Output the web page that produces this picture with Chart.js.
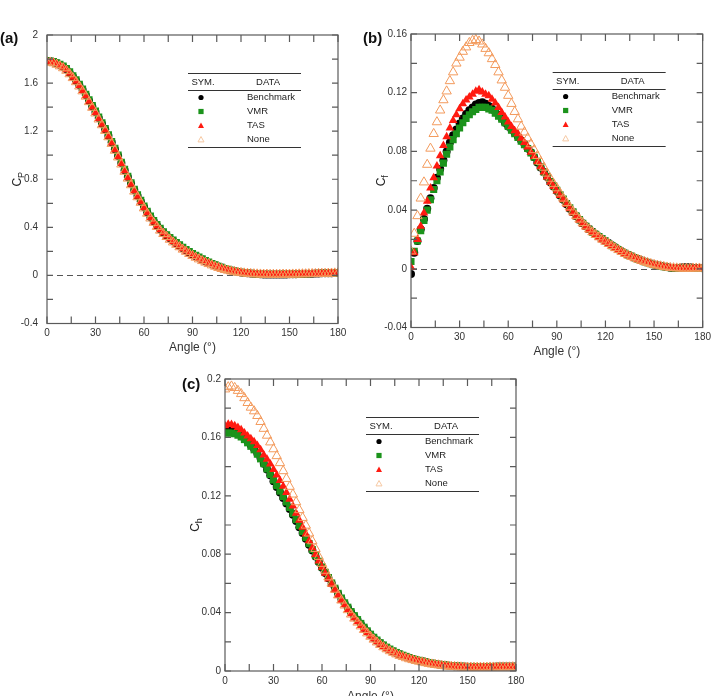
<!DOCTYPE html>
<html><head><meta charset="utf-8">
<script src="https://cdn.jsdelivr.net/npm/chart.js@4/dist/chart.umd.min.js"></script>
<style>
html,body{margin:0;padding:0;background:#fff;overflow:hidden;width:715px;height:696px;}
.p{position:absolute;}
</style></head><body>
<div class="p" style="left:0;top:0;width:352px;height:362px"><canvas id="ca"></canvas></div>
<div class="p" style="left:355px;top:0;width:360px;height:365px"><canvas id="cb"></canvas></div>
<div class="p" style="left:180px;top:340px;width:350px;height:365px"><canvas id="cc"></canvas></div>
<script>
// ---------------- DATA ----------------
const angles = [0,2,4,6,8,10,12,14,16,18, 20,22,24,26,28,30,32,34,36,38, 40,42,44,46,48,50,52,54,56,58, 60,62,64,66,68,70,72,74,76,78, 80,82,84,86,88,90,92,94,96,98, 100,102,104,106,108,110,112,114,116,118, 120,122,124,126,128,130,132,134,136,138, 140,142,144,146,148,150,152,154,156,158, 160,162,164,166,168,170,172,174,176,178, 180];
const seriesNames = ['Benchmark','VMR','TAS','None'];
const xTickValues = [0,30,60,90,120,150,180];
const yTicksA = [-0.4,0,0.4,0.8,1.2,1.6,2];
const yTicksB = [-0.04,0,0.04,0.08,0.12,0.16];
const yTicksC = [0,0.04,0.08,0.12,0.16,0.2];

// (a) pressure coefficient Cp
const cpBenchmark = [1.784,1.782,1.776,1.764,1.751,1.736,1.715,1.686,1.654,1.620, 1.584,1.544,1.500,1.454,1.407,1.360,1.310,1.262,1.215,1.162, 1.107,1.050,0.994,0.935,0.875,0.818,0.763,0.710,0.663,0.617, 0.570,0.526,0.486,0.450,0.416,0.385,0.357,0.332,0.309,0.287, 0.267,0.247,0.227,0.209,0.191,0.175,0.160,0.146,0.132,0.118, 0.106,0.095,0.084,0.074,0.065,0.056,0.048,0.041,0.035,0.030, 0.025,0.021,0.018,0.015,0.013,0.011,0.009,0.008,0.008,0.007, 0.007,0.007,0.007,0.008,0.008,0.009,0.010,0.010,0.011,0.012, 0.013,0.014,0.014,0.015,0.016,0.017,0.017,0.018,0.019,0.020, 0.021];
const cpVMR = [1.785,1.784,1.779,1.768,1.757,1.742,1.722,1.693,1.661,1.627, 1.591,1.551,1.507,1.461,1.414,1.367,1.317,1.269,1.222,1.169, 1.114,1.057,1.001,0.942,0.882,0.825,0.770,0.717,0.670,0.624, 0.577,0.533,0.493,0.457,0.423,0.392,0.364,0.339,0.316,0.294, 0.274,0.254,0.234,0.216,0.198,0.182,0.167,0.152,0.138,0.124, 0.111,0.099,0.088,0.077,0.067,0.058,0.050,0.043,0.037,0.031, 0.027,0.023,0.019,0.017,0.015,0.013,0.012,0.011,0.010,0.010, 0.010,0.010,0.010,0.011,0.011,0.011,0.012,0.012,0.013,0.014, 0.014,0.015,0.016,0.016,0.017,0.018,0.018,0.019,0.020,0.021, 0.022];
const cpTAS = [1.780,1.778,1.772,1.760,1.747,1.731,1.710,1.681,1.649,1.615, 1.579,1.539,1.495,1.449,1.402,1.355,1.305,1.257,1.210,1.157, 1.102,1.045,0.989,0.930,0.870,0.813,0.758,0.705,0.658,0.612, 0.565,0.521,0.481,0.445,0.411,0.380,0.352,0.327,0.304,0.282, 0.262,0.242,0.222,0.204,0.186,0.170,0.155,0.141,0.127,0.113, 0.101,0.090,0.079,0.069,0.060,0.052,0.045,0.038,0.033,0.028, 0.024,0.020,0.017,0.015,0.013,0.011,0.010,0.009,0.009,0.008, 0.008,0.008,0.008,0.009,0.009,0.009,0.010,0.010,0.011,0.012, 0.012,0.013,0.014,0.014,0.015,0.016,0.016,0.017,0.018,0.019, 0.020];
const cpNone = [1.774,1.772,1.766,1.754,1.741,1.725,1.704,1.675,1.643,1.609, 1.573,1.533,1.489,1.443,1.396,1.349,1.299,1.251,1.204,1.151, 1.096,1.039,0.983,0.924,0.864,0.807,0.752,0.699,0.652,0.606, 0.559,0.515,0.475,0.439,0.405,0.374,0.346,0.321,0.298,0.276, 0.256,0.236,0.216,0.198,0.180,0.164,0.149,0.135,0.121,0.108, 0.096,0.085,0.074,0.064,0.055,0.047,0.041,0.034,0.029,0.025, 0.021,0.018,0.015,0.013,0.011,0.010,0.009,0.008,0.008,0.007, 0.007,0.007,0.007,0.008,0.008,0.008,0.009,0.009,0.010,0.011, 0.011,0.012,0.013,0.013,0.014,0.015,0.015,0.016,0.017,0.018, 0.019];

// (b) skin friction coefficient Cf
const cfBenchmark = [-0.0035,0.011,0.019,0.027,0.034,0.041,0.048,0.055,0.062,0.068, 0.074,0.080,0.086,0.091,0.095,0.099,0.1025,0.1055,0.108,0.110, 0.112,0.113,0.1135,0.1125,0.111,0.109,0.107,0.105,0.1025,0.0995, 0.097,0.095,0.0925,0.090,0.0875,0.085,0.082,0.0795,0.076,0.0725, 0.069,0.066,0.0625,0.059,0.056,0.053,0.050,0.047,0.044,0.041, 0.0385,0.036,0.0335,0.031,0.029,0.0272,0.0253,0.0236,0.022,0.0205, 0.019,0.0175,0.016,0.0146,0.0132,0.0119,0.0106,0.0095,0.0085,0.0075, 0.0066,0.0058,0.005,0.0043,0.0036,0.003,0.0025,0.002,0.0015,0.0012, 0.0008,0.0006,0.0005,0.0007,0.001,0.0011,0.001,0.0008,0.0006,0.0005, 0.0004];
const cfVMR = [0.005,0.012,0.019,0.026,0.033,0.040,0.047,0.054,0.060,0.066, 0.072,0.078,0.083,0.088,0.092,0.096,0.0995,0.1025,0.105,0.107, 0.1085,0.110,0.110,0.110,0.109,0.108,0.106,0.104,0.102,0.0995, 0.097,0.0945,0.092,0.0895,0.087,0.0845,0.082,0.079,0.076,0.073, 0.0695,0.066,0.063,0.0595,0.0565,0.0535,0.0505,0.0475,0.0445,0.0415, 0.0388,0.036,0.0335,0.031,0.029,0.027,0.025,0.0235,0.022,0.0205, 0.019,0.0173,0.0158,0.0145,0.0132,0.0118,0.0105,0.0095,0.0085,0.0075, 0.0065,0.0056,0.0048,0.0041,0.0034,0.0028,0.0023,0.0018,0.0014,0.0011, 0.0008,0.0006,0.0005,0.0004,0.0003,0.0003,0.0003,0.0003,0.0002,0.0002, 0.0002];
const cfTAS = [0.001,0.011,0.020,0.029,0.038,0.046,0.055,0.062,0.070,0.077, 0.084,0.090,0.096,0.101,0.105,0.109,0.1125,0.115,0.117,0.119, 0.121,0.122,0.1205,0.119,0.118,0.1155,0.113,0.110,0.1065,0.1035, 0.100,0.097,0.094,0.092,0.089,0.086,0.083,0.0795,0.0765,0.073, 0.0695,0.066,0.0625,0.059,0.056,0.053,0.050,0.047,0.044,0.041, 0.038,0.0355,0.033,0.0305,0.0285,0.0265,0.0247,0.023,0.0213,0.0198, 0.0185,0.017,0.0155,0.014,0.0127,0.0114,0.0102,0.0091,0.0081,0.0072, 0.0063,0.0054,0.0046,0.0039,0.0032,0.0026,0.0021,0.0016,0.0012,0.0009, 0.0006,0.0004,0.0003,0.0002,0.0001,0.0001,0.0001,0.0002,0.0002,0.0002, 0.0002];
const cfNone = [0.012,0.024,0.036,0.048,0.059,0.071,0.082,0.092,0.100,0.108, 0.115,0.121,0.128,0.134,0.140,0.144,0.148,0.151,0.154,0.1555, 0.156,0.155,0.153,0.150,0.147,0.143,0.139,0.134,0.1285,0.1235, 0.118,0.1125,0.107,0.102,0.097,0.093,0.089,0.085,0.081,0.077, 0.073,0.069,0.065,0.0615,0.058,0.055,0.0515,0.048,0.045,0.042, 0.039,0.0362,0.0337,0.0313,0.029,0.027,0.025,0.0232,0.0216,0.020, 0.0186,0.0171,0.0156,0.0142,0.0129,0.0116,0.0103,0.0092,0.0082,0.0073, 0.0064,0.0056,0.0048,0.0041,0.0034,0.0028,0.0023,0.0018,0.0014,0.001, 0.0007,0.0005,0.0004,0.0003,0.0002,0.0002,0.0002,0.0003,0.0003,0.0003, 0.0003];

// (c) heat transfer coefficient Ch
const chBenchmark = [0.167,0.1668,0.166,0.165,0.1635,0.1617,0.1595,0.1572,0.1547,0.152, 0.149,0.1457,0.142,0.138,0.134,0.13,0.126,0.1222,0.1185,0.1148, 0.111,0.107,0.1027,0.0985,0.0945,0.0905,0.0865,0.0825,0.0785,0.0746, 0.0708,0.0671,0.0635,0.06,0.0563,0.0528,0.0495,0.0463,0.0433,0.0403, 0.0375,0.0348,0.0322,0.0296,0.0271,0.0248,0.0227,0.0208,0.019,0.0174, 0.0159,0.0146,0.0134,0.0124,0.0114,0.0105,0.0097,0.009,0.0083,0.0077, 0.0071,0.0066,0.0061,0.0056,0.0052,0.0048,0.0045,0.0042,0.0039,0.0037, 0.0035,0.0033,0.0032,0.0031,0.003,0.0029,0.0029,0.0028,0.0028,0.0028, 0.0028,0.0028,0.0029,0.0029,0.003,0.003,0.003,0.003,0.003,0.003, 0.003];
const chVMR = [0.163,0.163,0.163,0.1625,0.1615,0.1603,0.1585,0.1563,0.1539,0.1515, 0.1485,0.1453,0.142,0.1384,0.1346,0.1308,0.127,0.1232,0.1195,0.1158, 0.112,0.108,0.1037,0.0995,0.0955,0.0914,0.0873,0.0832,0.0792,0.0752, 0.0713,0.0676,0.064,0.0603,0.0567,0.0532,0.05,0.0467,0.0437,0.0407, 0.0379,0.0352,0.0326,0.03,0.0275,0.0252,0.0231,0.0212,0.0194,0.0178, 0.0163,0.015,0.0138,0.0127,0.0117,0.0108,0.01,0.0092,0.0085,0.0079, 0.0073,0.0068,0.0063,0.0058,0.0054,0.005,0.0046,0.0043,0.0041,0.0038, 0.0036,0.0034,0.0033,0.0032,0.0031,0.003,0.003,0.0029,0.0029,0.0029, 0.0029,0.0029,0.003,0.003,0.003,0.0031,0.0031,0.0031,0.0031,0.0031, 0.0031];
const chTAS = [0.168,0.169,0.1688,0.168,0.1668,0.1652,0.163,0.161,0.159,0.157, 0.1545,0.1515,0.148,0.145,0.1417,0.138,0.1343,0.1305,0.1265,0.1222, 0.1177,0.113,0.108,0.1032,0.0985,0.0938,0.0892,0.0845,0.0798,0.0753, 0.071,0.067,0.063,0.0592,0.0555,0.0519,0.0485,0.0453,0.0422,0.0392, 0.0363,0.0337,0.0311,0.0286,0.0263,0.024,0.022,0.0201,0.0183,0.0167, 0.0153,0.014,0.0128,0.0118,0.0108,0.0099,0.0092,0.0085,0.0078,0.0072, 0.0067,0.0062,0.0057,0.0052,0.0048,0.0044,0.0041,0.0038,0.0035,0.0033, 0.0031,0.003,0.0028,0.0027,0.0026,0.0025,0.0025,0.0025,0.0025,0.0025, 0.0025,0.0025,0.0026,0.0026,0.0026,0.0027,0.0027,0.0027,0.0027,0.0028, 0.0028];
const chNone = [0.193,0.1945,0.195,0.194,0.192,0.1898,0.187,0.1837,0.1805,0.178, 0.1748,0.1707,0.166,0.1613,0.1567,0.152,0.1473,0.1425,0.137,0.1317, 0.1263,0.121,0.1157,0.1103,0.105,0.0997,0.0943,0.089,0.0837,0.0783, 0.0735,0.0688,0.0643,0.06,0.0558,0.0519,0.0484,0.045,0.0418,0.0388, 0.036,0.0333,0.0307,0.0282,0.0259,0.0236,0.0216,0.0197,0.018,0.0164, 0.015,0.0137,0.0126,0.0115,0.0105,0.0097,0.0089,0.0082,0.0076,0.007, 0.0065,0.006,0.0055,0.005,0.0046,0.0043,0.004,0.0037,0.0034,0.0032, 0.003,0.0028,0.0027,0.0026,0.0025,0.0024,0.0024,0.0024,0.0024,0.0024, 0.0024,0.0024,0.0025,0.0025,0.0025,0.0026,0.0026,0.0026,0.0026,0.0027, 0.0027];

// ---------------- STYLE ----------------
const FONT = "'Liberation Sans', Arial, Helvetica, sans-serif";
Chart.defaults.font.family = FONT;
Chart.defaults.color = '#333';

const styles = {
  Benchmark: {style:'circle',   radius:4.0, fill:'#000000', stroke:'#000000', bw:0, order:3},
  VMR:       {style:'rect',     radius:5.0, fill:'#1b931b', stroke:'#1b931b', bw:0, order:2},
  TAS:       {style:'triangle', radius:5.0, fill:'#ff1a10', stroke:'#ff1a10', bw:0, order:1},
  None:      {style:'triangle', radius:5.4, fill:'rgba(0,0,0,0)', stroke:'#f39a5c', bw:1, order:0}
};

function pts(vals){ return angles.map((a,i)=>({x:a, y:vals[i]})); }

const panelPlugin = {
  id: 'panel',
  beforeDatasetsDraw(chart, args, o){
    const {ctx, chartArea:a, scales:{y}} = chart;
    if (o.zeroLine){
      const py = Math.round(y.getPixelForValue(0)) + 0.5;
      ctx.save();
      ctx.strokeStyle = '#555'; ctx.lineWidth = 1; ctx.setLineDash([6,4]);
      ctx.beginPath(); ctx.moveTo(a.left, py); ctx.lineTo(a.right, py); ctx.stroke();
      ctx.restore();
    }
  },
  afterDraw(chart, args, o){
    const {ctx, chartArea:a, scales:{x,y}} = chart;
    ctx.save();
    ctx.strokeStyle = '#5a5a5a'; ctx.lineWidth = 1.2;
    ctx.strokeRect(a.left, a.top, a.right-a.left, a.bottom-a.top);
    ctx.beginPath();
    for (let v = x.min; v <= x.max + 1e-9; v += o.xMinorStep){
      const px = x.getPixelForValue(v);
      ctx.moveTo(px, a.bottom); ctx.lineTo(px, a.bottom - 7);
      ctx.moveTo(px, a.top); ctx.lineTo(px, a.top + 7);
    }
    const ny = Math.round((y.max - y.min)/o.yMinorStep);
    for (let k = 0; k <= ny; k++){
      const py = y.getPixelForValue(y.min + k*o.yMinorStep);
      ctx.moveTo(a.left, py); ctx.lineTo(a.left + 6, py);
      ctx.moveTo(a.right, py); ctx.lineTo(a.right - 6, py);
    }
    ctx.stroke();

    // y title with subscript
    ctx.save();
    ctx.translate(a.left - 30, (a.top + a.bottom)/2);
    ctx.rotate(-Math.PI/2);
    ctx.fillStyle = '#222';
    ctx.font = '12px ' + FONT;
    const wC = ctx.measureText('C').width;
    ctx.font = '9px ' + FONT;
    const wS = ctx.measureText(o.ySub).width;
    const start = -(wC + wS)/2;
    ctx.textBaseline = 'alphabetic'; ctx.textAlign = 'left';
    ctx.font = '12px ' + FONT;
    ctx.fillText('C', start, 4);
    ctx.font = '9px ' + FONT;
    ctx.fillText(o.ySub, start + wC, 7);
    ctx.restore();

    // panel label
    ctx.fillStyle = '#111';
    ctx.font = 'bold 15px ' + FONT;
    ctx.textAlign = 'left'; ctx.textBaseline = 'middle';
    ctx.fillText(o.label, a.left + o.labelDX, a.top + o.labelDY);

    // legend table
    const L = a.right - 37 - 113, T = a.top + 38, W = 113;
    ctx.strokeStyle = '#333'; ctx.lineWidth = 1;
    [0, 16.5, 74].forEach(d => {
      ctx.beginPath(); ctx.moveTo(L, Math.round(T + d) + 0.5); ctx.lineTo(L + W, Math.round(T + d) + 0.5); ctx.stroke();
    });
    ctx.fillStyle = '#222';
    ctx.font = '9.5px ' + FONT;
    ctx.textAlign = 'center'; ctx.textBaseline = 'middle';
    ctx.fillText('SYM.', L + 15, T + 9);
    ctx.fillText('DATA', L + 80, T + 9);
    ctx.textAlign = 'left';
    seriesNames.forEach((name, i) => {
      const cy = T + 24.5 + i*14;
      const sx = L + 13;
      ctx.fillStyle = '#222';
      ctx.fillText(name, L + 59, cy);
      ctx.beginPath();
      if (name === 'Benchmark'){
        ctx.fillStyle = '#000'; ctx.arc(sx, cy, 2.6, 0, Math.PI*2); ctx.fill();
      } else if (name === 'VMR'){
        ctx.fillStyle = '#1b931b'; ctx.fillRect(sx - 2.6, cy - 2.6, 5.2, 5.2);
      } else if (name === 'TAS'){
        ctx.fillStyle = '#ff1a10';
        ctx.moveTo(sx, cy - 3); ctx.lineTo(sx + 3, cy + 2.4); ctx.lineTo(sx - 3, cy + 2.4); ctx.closePath(); ctx.fill();
      } else {
        ctx.strokeStyle = '#f6c8a2'; ctx.lineWidth = 1;
        ctx.moveTo(sx, cy - 3); ctx.lineTo(sx + 3, cy + 2.4); ctx.lineTo(sx - 3, cy + 2.4); ctx.closePath(); ctx.stroke();
      }
    });
    ctx.restore();
  }
};

function makePanel(id, cfg){
  const datasets = seriesNames.map((name, i) => {
    const s = styles[name];
    return {
      label: name,
      data: pts(cfg.series[i]),
      showLine: false,
      pointStyle: s.style,
      pointRadius: s.radius,
      pointHoverRadius: s.radius,
      pointBackgroundColor: s.fill,
      pointBorderColor: s.stroke,
      pointBorderWidth: s.bw,
      backgroundColor: s.fill,
      borderColor: s.stroke,
      order: s.order
    };
  });
  return new Chart(document.getElementById(id), {
    type: 'scatter',
    data: { datasets },
    plugins: [panelPlugin],
    options: {
      responsive: true, maintainAspectRatio: false, animation: false, devicePixelRatio: 1,
      layout: { padding: { left: 0, top: cfg.padTop, right: cfg.padRight, bottom: 0 } },
      plugins: {
        legend: { display: false }, tooltip: { enabled: false },
        panel: { zeroLine: cfg.zeroLine, xMinorStep: 15, yMinorStep: cfg.yMinorStep, ySub: cfg.ySub,
                 label: cfg.label, labelDX: cfg.labelDX, labelDY: cfg.labelDY }
      },
      scales: {
        x: {
          type: 'linear', min: 0, max: 180,
          afterBuildTicks: s => { s.ticks = xTickValues.map(v => ({value: v})); },
          afterFit: s => { s.height = cfg.xH; },
          ticks: { font: { size: 10 }, color: '#333', padding: 4, maxRotation: 0, autoSkip: false },
          grid: { display: false, drawTicks: false },
          border: { display: false },
          title: { display: true, text: 'Angle (°)', font: { size: 12 }, color: '#333', padding: { top: 0, bottom: cfg.titlePad } }
        },
        y: {
          type: 'linear', min: cfg.yTicks[0], max: cfg.yTicks[cfg.yTicks.length - 1],
          afterBuildTicks: s => { s.ticks = cfg.yTicks.map(v => ({value: v})); },
          afterFit: s => { s.width = cfg.yW; },
          ticks: { font: { size: 10 }, color: '#333', padding: cfg.yPad,
                   callback: v => String(Math.round(v*1000)/1000) },
          grid: { display: false, drawTicks: false },
          border: { display: false }
        }
      }
    }
  });
}

makePanel('ca', { series: [cpBenchmark, cpVMR, cpTAS, cpNone], yTicks: yTicksA, yMinorStep: 0.2,
  ySub: 'P', zeroLine: true, label: '(a)', labelDX: -47, labelDY: 4,
  padTop: 35, padRight: 14, xH: 38.5, yW: 47, yPad: 9, titlePad: 7 });
makePanel('cb', { series: [cfBenchmark, cfVMR, cfTAS, cfNone], yTicks: yTicksB, yMinorStep: 0.02,
  ySub: 'f', zeroLine: true, label: '(b)', labelDX: -48, labelDY: 5,
  padTop: 34, padRight: 10, xH: 37.5, yW: 56, yPad: 4, titlePad: 6 });
makePanel('cc', { series: [chBenchmark, chVMR, chTAS, chNone], yTicks: yTicksC, yMinorStep: 0.02,
  ySub: 'h', zeroLine: false, label: '(c)', labelDX: -43, labelDY: 6,
  padTop: 39, padRight: 14, xH: 34, yW: 45, yPad: 4, titlePad: 1 });
</script>
</body></html>
